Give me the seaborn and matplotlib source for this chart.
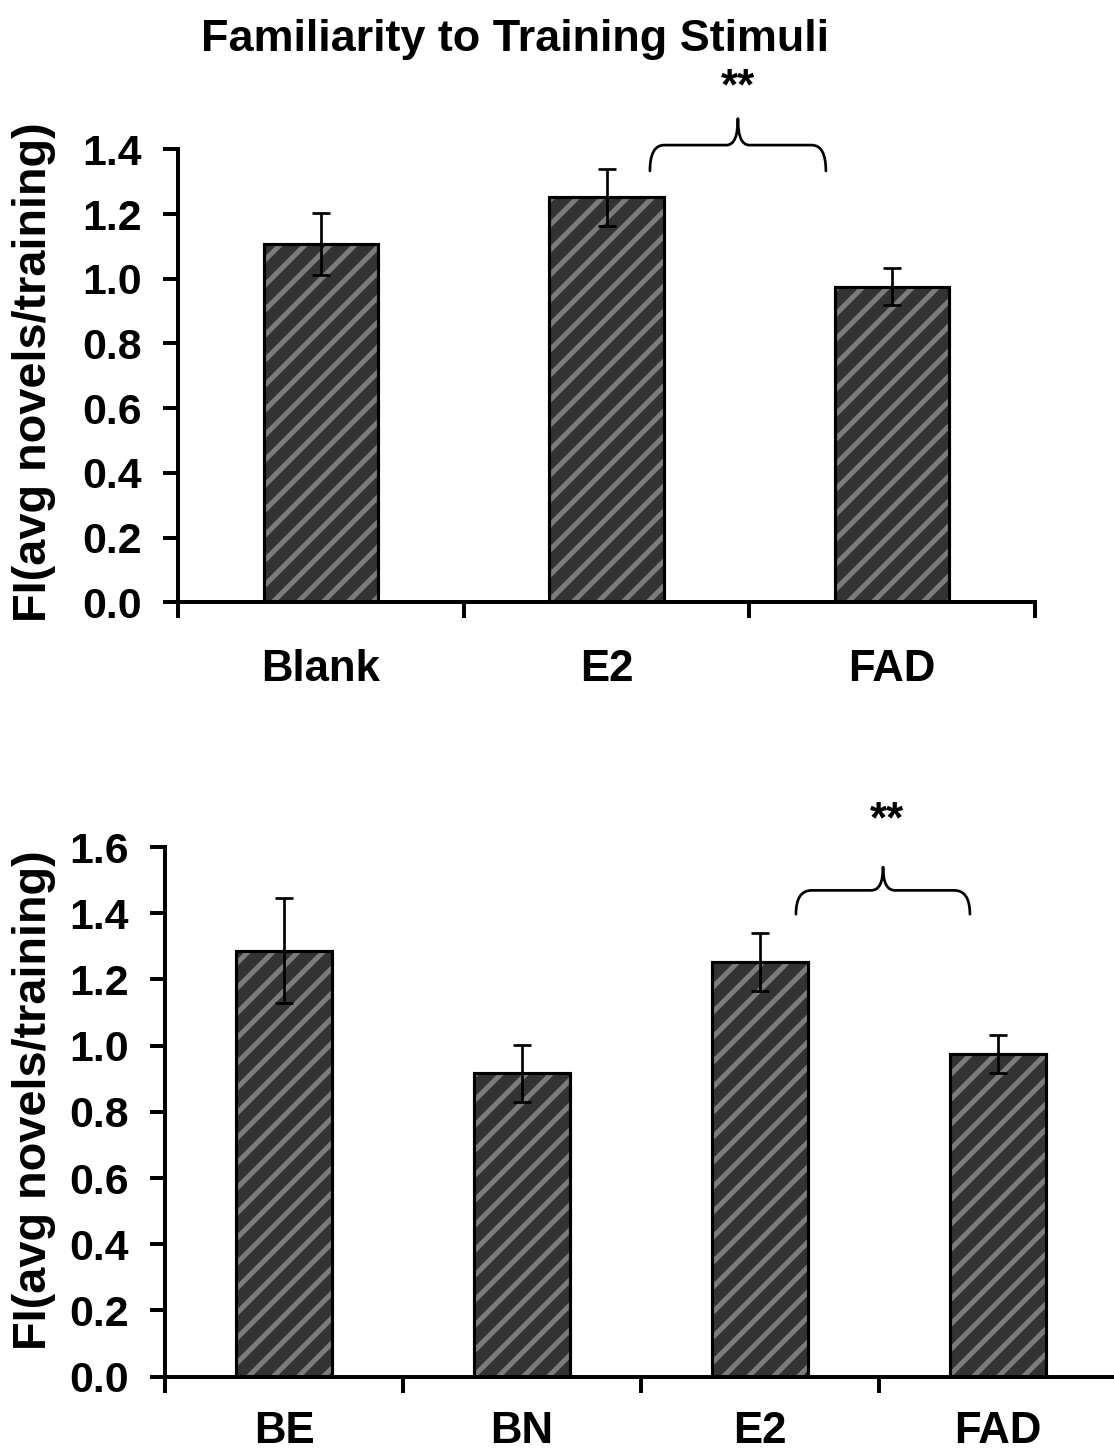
import numpy as np
import matplotlib
matplotlib.use("Agg")
import matplotlib.pyplot as plt
from matplotlib.path import Path
from matplotlib.patches import PathPatch
from matplotlib.ticker import FormatStrFormatter
import seaborn as sns

# ---------------- data ----------------
title = "Familiarity to Training Stimuli"
ylabel = "FI(avg novels/training)"

cats_top = ["Blank", "E2", "FAD"]
vals_top = [1.107, 1.252, 0.975]
errs_top = [0.096, 0.088, 0.057]

cats_bot = ["BE", "BN", "E2", "FAD"]
vals_bot = [1.287, 0.916, 1.252, 0.975]
errs_bot = [0.158, 0.085, 0.088, 0.057]

sig_label = "**"

# ---------------- style ----------------
sns.set_theme(style="ticks")
plt.rcParams["font.family"] = ["Liberation Sans", "DejaVu Sans"]
plt.rcParams["font.weight"] = "bold"
plt.rcParams["text.color"] = "black"
plt.rcParams["axes.labelcolor"] = "black"
plt.rcParams["xtick.color"] = "black"
plt.rcParams["ytick.color"] = "black"
plt.rcParams["hatch.linewidth"] = 2.4
plt.rcParams["hatch.color"] = "#7c7c7c"

DPI = 150
W, H = 1114, 1456
FACE = "#333333"
HATCH = "#7c7c7c"

fig = plt.figure(figsize=(W / DPI, H / DPI), dpi=DPI)
ax1 = fig.add_axes([178 / W, 1 - 602.3 / H, 857 / W, 453 / H])
ax2 = fig.add_axes([165 / W, 1 - 1376.7 / H, 952 / W, 529.7 / H])


def draw_panel(ax, cats, vals, errs, ymax, xpad):
    sns.barplot(x=cats, y=vals, ax=ax, color=FACE, saturation=1, width=0.4,
                edgecolor=HATCH, linewidth=0, hatch="//", errorbar=None)
    for p in ax.patches:
        p.set_edgecolor(HATCH)
        p.set_hatch("//")
    sns.barplot(x=cats, y=vals, ax=ax, color="black", saturation=1, width=0.4,
                fill=False, linewidth=1.5, errorbar=None)
    x = np.arange(len(cats))
    ax.errorbar(x, vals, yerr=errs, fmt="none", ecolor="black",
                elinewidth=1.3, capsize=4.4, capthick=1.3, zorder=5)
    n = len(cats)
    ax.set_xlim(-0.5, n - 0.5)
    ax.set_ylim(0, ymax)
    ax.set_yticks(np.round(np.arange(0, ymax + 0.01, 0.2), 1))
    ax.yaxis.set_major_formatter(FormatStrFormatter("%.1f"))
    ax.set_xticks(x)
    ax.set_xticklabels(cats)
    ax.set_xticks(np.arange(n + 1) - 0.5, minor=True)
    ax.tick_params(axis="x", which="major", length=0, pad=xpad,
                   labelsize=21, bottom=True)
    ax.tick_params(axis="x", which="minor", length=7.5, width=1.9,
                   direction="out", color="black", bottom=True)
    ax.tick_params(axis="y", which="major", length=7, width=1.9,
                   direction="out", pad=10.5, labelsize=20.5, color="black",
                   left=True)
    for lab in ax.get_xticklabels() + ax.get_yticklabels():
        lab.set_fontweight("bold")
        lab.set_color("black")
    ax.set_xlabel("")
    ax.set_ylabel("")
    sns.despine(ax=ax)
    for s in ["left", "bottom"]:
        ax.spines[s].set_linewidth(1.9)
        ax.spines[s].set_color("black")
    ax.set_facecolor("white")


def brace(ax, xl, xr, xm, y0, y1, y2, rx, rm, lw=1.3):
    verts = [(xl, y0), (xl, y1), (xl + rx, y1), (xm - rm, y1), (xm, y1), (xm, y2),
             (xm, y2), (xm, y1), (xm + rm, y1), (xr - rx, y1), (xr, y1), (xr, y0)]
    codes = [Path.MOVETO, Path.CURVE3, Path.CURVE3, Path.LINETO, Path.CURVE3, Path.CURVE3,
             Path.MOVETO, Path.CURVE3, Path.CURVE3, Path.LINETO, Path.CURVE3, Path.CURVE3]
    ax.add_patch(PathPatch(Path(verts, codes), fill=False, lw=lw,
                           edgecolor="black", clip_on=False, capstyle="round"))


draw_panel(ax1, cats_top, vals_top, errs_top, 1.4, 22.5)
draw_panel(ax2, cats_bot, vals_bot, errs_bot, 1.6, 16.5)

# significance braces
brace(ax1, 1.152, 1.768, 1.460, 1.333, 1.413, 1.494, 0.05, 0.04)
ax1.text(1.460, 1.589, sig_label, ha="center", va="center", fontsize=21,
         fontweight="bold", clip_on=False)
brace(ax2, 2.151, 2.882, 2.517, 1.397, 1.469, 1.539, 0.066, 0.05)
ax2.text(2.534, 1.678, sig_label, ha="center", va="center", fontsize=21,
         fontweight="bold", clip_on=False)

# titles / labels
fig.text(515 / W, 1 - 39 / H, title, ha="center", va="center",
         fontsize=21.6, fontweight="bold", color="black")
fig.text(34 / W, 1 - 372 / H, ylabel, rotation=90, ha="center", va="center",
         fontsize=22.5, fontweight="bold", color="black")
fig.text(34 / W, 1 - 1100 / H, ylabel, rotation=90, ha="center", va="center",
         fontsize=22.5, fontweight="bold", color="black")

fig.savefig("out.png", dpi=DPI, facecolor="white")
